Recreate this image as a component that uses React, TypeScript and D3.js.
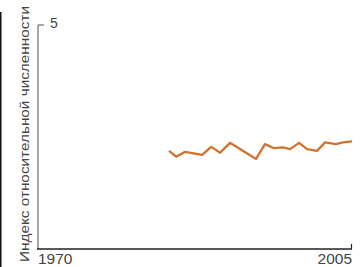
import * as d3 from "d3"
import { useEffect, useRef } from "react"

// years (vertex positions)
const years = [1984.6, 1985.4, 1986.4, 1988.3, 1989.3, 1990.3, 1991.4, 1994.3, 1995.3, 1996.3, 1997.3, 1998.1, 1999.1, 2000.0, 2001.1, 2002.0, 2003.2, 2004.0, 2005.0]
const indexValues = [2.19, 2.06, 2.17, 2.1, 2.28, 2.15, 2.37, 2.01, 2.34, 2.25, 2.27, 2.23, 2.37, 2.23, 2.19, 2.38, 2.34, 2.38, 2.4]
const xTicks = [1970, 2005]
const yTicks = [5]
const yLabel = "Индекс относительной численности"

const W = 364
const H = 267

export default function App() {
  const svgRef = useRef<SVGSVGElement>(null)

  useEffect(() => {
    if (!svgRef.current) return
    const svg = d3.select(svgRef.current)
    svg.selectAll("*").remove()

    const x = d3.scaleLinear().domain([1970, 2005]).range([38, 352])
    const y = d3.scaleLinear().domain([0, 5]).range([249, 25])

    // dark edge on the left
    svg.append("line")
      .attr("x1", 0.5).attr("x2", 0.5)
      .attr("y1", 12).attr("y2", H)
      .attr("stroke", "#111").attr("stroke-width", 2)

    // y axis
    svg.append("line")
      .attr("x1", 38).attr("x2", 38)
      .attr("y1", y(5)).attr("y2", y(0))
      .attr("stroke", "#888").attr("stroke-width", 1.5)

    yTicks.forEach((t) => {
      svg.append("line")
        .attr("x1", 38).attr("x2", 44)
        .attr("y1", y(t)).attr("y2", y(t))
        .attr("stroke", "#888").attr("stroke-width", 1.5)
      svg.append("text")
        .attr("x", 50).attr("y", y(t) + 3)
        .style("font-family", "Liberation Sans, Arial, sans-serif")
        .style("font-size", "14px")
        .attr("fill", "#444")
        .text(t)
    })

    // x axis
    svg.append("line")
      .attr("x1", 37).attr("x2", x(2005))
      .attr("y1", y(0)).attr("y2", y(0))
      .attr("stroke", "#222").attr("stroke-width", 1.5)
    svg.append("line")
      .attr("x1", x(2005) - 0.5).attr("x2", x(2005) - 0.5)
      .attr("y1", y(0)).attr("y2", y(0) - 5)
      .attr("stroke", "#222").attr("stroke-width", 1.2)

    xTicks.forEach((t, i) => {
      svg.append("text")
        .attr("x", x(t))
        .attr("y", 264)
        .attr("text-anchor", i === 0 ? "start" : "end")
        .style("font-family", "Liberation Sans, Arial, sans-serif")
        .style("font-size", "15.5px")
        .attr("fill", "#444")
        .text(t)
    })

    // y label
    svg.append("text")
      .attr("transform", `translate(29, ${134}) rotate(-90)`)
      .attr("text-anchor", "middle")
      .style("font-family", "Liberation Sans, Arial, sans-serif")
      .style("font-size", "13.5px")
      .attr("fill", "#444")
      .attr("textLength", 256)
      .attr("lengthAdjust", "spacingAndGlyphs")
      .text(yLabel)

    // series line
    const line = d3.line<number>()
      .x((_, i) => x(years[i]))
      .y((d) => y(d))
    svg.append("path")
      .datum(indexValues)
      .attr("d", line)
      .attr("fill", "none")
      .attr("stroke", "#d2722e")
      .attr("stroke-width", 2.3)
      .attr("stroke-linejoin", "round")
  }, [])

  return (
    <svg
      ref={svgRef}
      width={W}
      height={H}
      style={{ position: "absolute", left: 0, top: 0, background: "#fff" }}
    />
  )
}
